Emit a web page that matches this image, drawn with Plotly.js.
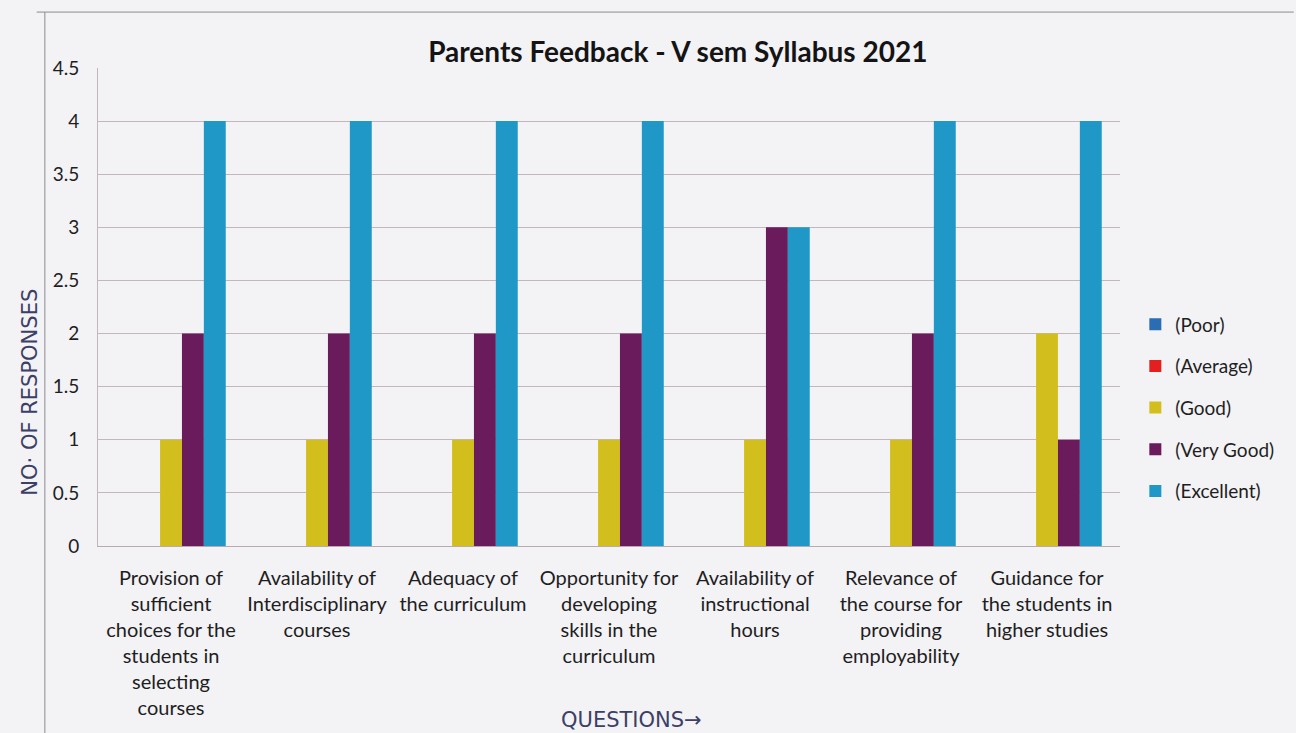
<!DOCTYPE html>
<html>
<head>
<meta charset="utf-8">
<script src="https://cdn.plot.ly/plotly-3.0.1.min.js"></script>
<style>html,body{margin:0;padding:0;background:#f3f2f5;}#chart{width:1296px;height:733px;}</style>
</head>
<body>
<div id="chart"></div>
<script>
const categories = [
  "Provision of<br>sufficient<br>choices for the<br>students in<br>selecting<br>courses",
  "Availability of<br>Interdisciplinary<br>courses",
  "Adequacy of<br>the curriculum",
  "Opportunity for<br>developing<br>skills in the<br>curriculum",
  "Availability of<br>instructional<br>hours",
  "Relevance of<br>the course for<br>providing<br>employability",
  "Guidance for<br>the students in<br>higher studies"
];
const seriesNames = ["(Poor)", "(Average)", "(Good)", "(Very Good)", "(Excellent)"];
const poor      = [0, 0, 0, 0, 0, 0, 0];
const average   = [0, 0, 0, 0, 0, 0, 0];
const good      = [1, 1, 1, 1, 1, 1, 2];
const veryGood  = [2, 2, 2, 2, 3, 2, 1];
const excellent = [4, 4, 4, 4, 3, 4, 4];
const yTicks = [0, 0.5, 1, 1.5, 2, 2.5, 3, 3.5, 4, 4.5];

const seriesValues = [poor, average, good, veryGood, excellent];
const colors = ["#2a6db3", "#e3201f", "#d2bf1e", "#6a1b5c", "#1f98c8"];

const traces = seriesValues.map((vals, i) => ({
  type: "bar",
  name: seriesNames[i],
  x: categories,
  y: vals,
  marker: {color: colors[i], line: {width: 0}},
  legendgroup: "g" + i,
  hoverinfo: "x+y+name"
}));

const font = "Lato, 'Open Sans', sans-serif";
const layout = {
  width: 1296, height: 733,
  paper_bgcolor: "#f3f2f5",
  plot_bgcolor: "#f3f2f5",
  margin: {l: 98, r: 176, t: 68, b: 187},
  barmode: "group",
  bargap: 0.25,
  bargroupgap: 0,
  font: {family: font, color: "#1e1e1e", size: 19},
  title: {
    text: "<b>Parents Feedback - V sem Syllabus 2021</b>",
    font: {family: font, size: 28, color: "#141414"},
    x: 0.523, xanchor: "center", y: 0.929, yanchor: "middle"
  },
  xaxis: {
    type: "category",
    showgrid: false,
    zeroline: false,
    showline: true, linecolor: "#b9aab2", linewidth: 1,
    ticks: "",
    tickangle: 0,
    tickfont: {family: font, size: 20, color: "#1e1e1e"},
    ticklabelstandoff: 14
  },
  yaxis: {
    range: [0, 4.5],
    tickvals: yTicks,
    ticktext: yTicks.map(String),
    showgrid: true, gridcolor: "#c4b6bd", gridwidth: 1,
    zeroline: false,
    showline: true, linecolor: "#c4b6bd", linewidth: 1,
    ticks: "",
    tickfont: {family: font, size: 19, color: "#1e1e1e"},
    ticklabelstandoff: 14
  },
  legend: {
    x: 1.015, xanchor: "left", y: 0.289, yanchor: "middle",
    traceorder: "grouped",
    tracegroupgap: 14,
    font: {family: font, size: 19, color: "#1e1e1e"},
    bgcolor: "rgba(0,0,0,0)",
    itemwidth: 30
  },
  shapes: [
    {type: "line", xref: "paper", yref: "paper", x0: -0.06, x1: 1.17, y0: 1.117, y1: 1.117,
     line: {color: "#8c8a90", width: 1}},
    {type: "line", xref: "paper", yref: "paper", x0: -0.052, x1: -0.052, y0: 1.117, y1: -0.4,
     line: {color: "#8c8a90", width: 1}}
  ],
  annotations: [
    {text: "NO· OF RESPONSES", xref: "paper", yref: "paper", x: -0.066, y: 0.322,
     xanchor: "center", yanchor: "middle", textangle: -90, showarrow: false,
     font: {family: "'DejaVu Sans', sans-serif", size: 21, color: "#3c3f66"}},
    {text: "QUESTIONS→", xref: "paper", yref: "paper", x: 0.5225, y: -0.364,
     xanchor: "center", yanchor: "middle", showarrow: false,
     font: {family: "'DejaVu Sans', sans-serif", size: 21, color: "#3c3f66"}}
  ]
};

Plotly.newPlot("chart", traces, layout, {displayModeBar: false, staticPlot: true});
</script>
</body>
</html>
